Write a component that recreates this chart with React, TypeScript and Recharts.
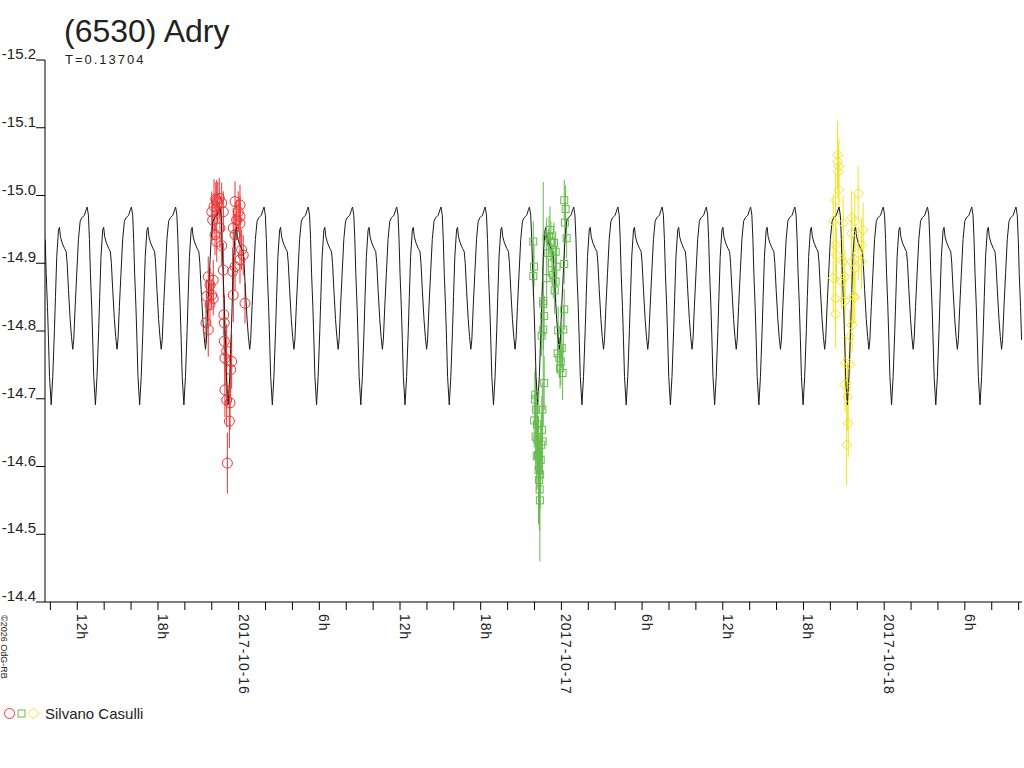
import React from 'react';
import { ComposedChart, Line, Scatter, XAxis, YAxis, ErrorBar } from 'recharts';

// time axis: hours since 2017-10-15 00:00 UT
const PERIOD_H = 0.13704 * 24;
const EPOCH_H = 10.06; // a deep minimum of the model curve
const X_DOMAIN: [number, number] = [9.6, 82.25];
const Y_DOMAIN: [number, number] = [-15.2, -14.4];

const X_TICKS = [10, 12, 14, 16, 18, 20, 22, 24, 26, 28, 30, 32, 34, 36, 38, 40, 42, 44, 46, 48, 50, 52, 54, 56, 58, 60, 62, 64, 66, 68, 70, 72, 74, 76, 78, 80, 82];
const LABEL_HOURS = [12, 18, 24, 30, 36, 42, 48, 54, 60, 66, 72, 78];
const LABEL_TEXT = ['12h', '18h', '2017-10-16', '6h', '12h', '18h', '2017-10-17', '6h', '12h', '18h', '2017-10-18', '6h'];
const Y_TICKS = [-15.2, -15.1, -15.0, -14.9, -14.8, -14.7, -14.6, -14.5, -14.4];

// one cycle of the model light curve
const PROFILE_PHASE = [0, 0.036, 0.074, 0.097, 0.126, 0.165, 0.187, 0.21, 0.248, 0.3, 0.339, 0.361, 0.391, 0.429, 0.458, 0.488, 0.51, 0.542, 0.578, 0.616, 0.655, 0.691, 0.752, 0.79, 0.813, 0.842, 0.865, 0.887, 0.916, 0.939, 0.962];
const PROFILE_MAG = [-14.691, -14.733, -14.802, -14.851, -14.91, -14.949, -14.953, -14.939, -14.93, -14.922, -14.917, -14.9, -14.861, -14.817, -14.792, -14.773, -14.787, -14.836, -14.885, -14.935, -14.962, -14.967, -14.971, -14.979, -14.983, -14.971, -14.935, -14.885, -14.836, -14.787, -14.733];

// Silvano Casulli, night 1 (red circles)
const RED_T = [21.57, 21.62, 21.74, 21.74, 21.87, 21.87, 21.99, 22.11, 22.11, 22.0, 22.07, 22.17, 22.24, 22.3, 22.37, 22.37, 22.45, 22.56, 22.61, 22.74, 22.74, 22.86, 22.86, 22.9, 22.93, 22.93, 22.98, 23.11, 22.98, 23.11, 23.31, 23.16, 23.36, 23.41, 23.48, 23.55, 23.6, 23.6, 23.73, 23.73, 23.73, 23.85, 23.97, 24.1, 24.1, 24.1, 24.1, 24.22, 24.34, 24.47];
const RED_V = [-14.812, -14.851, -14.802, -14.88, -14.868, -14.839, -14.853, -14.875, -14.848, -14.976, -14.964, -14.984, -14.942, -14.995, -14.993, -14.932, -14.99, -14.996, -14.952, -14.989, -14.926, -14.976, -14.89, -14.824, -14.812, -14.785, -14.76, -14.77, -14.713, -14.698, -14.667, -14.605, -14.694, -14.743, -14.755, -14.888, -14.952, -14.853, -14.991, -14.942, -14.895, -14.964, -14.976, -14.986, -14.969, -14.959, -14.905, -14.92, -14.912, -14.841];
const RED_E = [0.03, 0.025, 0.04, 0.03, 0.025, 0.03, 0.02, 0.03, 0.025, 0.03, 0.03, 0.04, 0.03, 0.025, 0.03, 0.03, 0.03, 0.03, 0.03, 0.03, 0.03, 0.03, 0.04, 0.03, 0.04, 0.035, 0.04, 0.04, 0.04, 0.04, 0.04, 0.045, 0.04, 0.04, 0.04, 0.035, 0.03, 0.04, 0.03, 0.03, 0.035, 0.03, 0.03, 0.03, 0.03, 0.03, 0.035, 0.03, 0.03, 0.03];

// night 2 (green squares)
const GREEN_T = [45.91, 45.96, 45.91, 46.03, 45.98, 46.08, 46.16, 46.06, 46.12, 46.18, 46.22, 46.26, 46.3, 46.34, 46.38, 46.4, 46.42, 46.46, 46.5, 46.55, 46.58, 46.6, 46.65, 46.72, 46.65, 46.53, 46.72, 46.65, 46.9, 46.9, 47.02, 47.08, 47.15, 47.22, 47.3, 47.39, 47.45, 47.5, 47.57, 47.57, 47.64, 47.72, 47.76, 47.85, 47.9, 47.95, 48.02, 48.09, 48.14, 48.21, 48.21, 48.31, 48.26, 48.39, 48.21];
const GREEN_V = [-14.932, -14.895, -14.881, -14.699, -14.668, -14.644, -14.615, -14.706, -14.684, -14.662, -14.64, -14.617, -14.595, -14.58, -14.566, -14.55, -14.588, -14.61, -14.632, -14.654, -14.684, -14.637, -14.844, -14.822, -14.802, -14.793, -14.723, -14.84, -14.937, -14.878, -14.915, -14.94, -14.949, -14.932, -14.9, -14.883, -14.93, -14.86, -14.917, -14.873, -14.895, -14.767, -14.801, -14.76, -14.745, -14.755, -14.775, -14.738, -14.802, -14.832, -14.993, -14.98, -14.96, -14.937, -14.899];
const GREEN_E = [0.03, 0.03, 0.03, 0.04, 0.04, 0.05, 0.05, 0.04, 0.045, 0.05, 0.05, 0.05, 0.08, 0.05, 0.06, 0.09, 0.05, 0.05, 0.045, 0.05, 0.04, 0.05, 0.03, 0.03, 0.03, 0.03, 0.04, 0.18, 0.03, 0.03, 0.035, 0.03, 0.035, 0.03, 0.03, 0.035, 0.03, 0.035, 0.03, 0.03, 0.03, 0.03, 0.035, 0.03, 0.03, 0.035, 0.03, 0.04, 0.035, 0.03, 0.03, 0.035, 0.03, 0.03, 0.03];

// night 3 (yellow diamonds)
const YELLOW_T = [68.54, 68.54, 68.63, 68.58, 68.63, 68.39, 68.21, 68.95, 68.39, 68.46, 68.95, 68.21, 69.08, 68.83, 68.39, 68.39, 69.08, 69.62, 69.45, 69.13, 69.45, 69.08, 69.28, 69.33, 69.21, 70.07, 69.58, 69.82, 70.44, 69.58, 70.32, 70.07, 70.32, 69.58, 69.82, 69.7, 69.82];
const YELLOW_V = [-15.06, -15.05, -15.043, -15.035, -15.008, -14.993, -14.962, -14.959, -14.927, -14.912, -14.902, -14.878, -14.88, -14.873, -14.848, -14.825, -14.844, -14.809, -14.792, -14.753, -14.751, -14.721, -14.703, -14.664, -14.632, -15.003, -14.967, -14.962, -14.949, -14.944, -14.927, -14.915, -14.902, -14.902, -14.893, -14.851, -14.85];
const YELLOW_E = [0.05, 0.04, 0.04, 0.04, 0.04, 0.04, 0.04, 0.04, 0.04, 0.04, 0.04, 0.05, 0.04, 0.04, 0.05, 0.05, 0.04, 0.04, 0.04, 0.04, 0.04, 0.04, 0.05, 0.05, 0.06, 0.04, 0.04, 0.04, 0.04, 0.04, 0.04, 0.04, 0.04, 0.04, 0.04, 0.04, 0.04];

const RED = '#ee3232';
const GREEN = '#66bb4e';
const YELLOW = '#f4e41e';
const INK = '#222';
const FONT = '"Liberation Sans", Arial, sans-serif';

const toPoints = (ts: number[], vs: number[], es: number[]) =>
  ts.map((t, i) => ({ t, v: vs[i], e: es[i] }));

const redData = toPoints(RED_T, RED_V, RED_E);
const greenData = toPoints(GREEN_T, GREEN_V, GREEN_E);
const yellowData = toPoints(YELLOW_T, YELLOW_V, YELLOW_E);

// model curve: the cycle above repeated with the period T
const modelData: { t: number; v: number }[] = [];
for (let k = -1; k <= 22; k++) {
  PROFILE_PHASE.forEach((p, i) => {
    const t = EPOCH_H + (k + p) * PERIOD_H;
    if (t >= X_DOMAIN[0] && t <= X_DOMAIN[1]) modelData.push({ t, v: PROFILE_MAG[i] });
  });
}

const CircleMark = (p: any) => (
  <circle cx={p.cx} cy={p.cy} r={5} fill="none" stroke={RED} strokeWidth={1} />
);
const SquareMark = (p: any) => (
  <rect x={p.cx - 3.5} y={p.cy - 3.5} width={7} height={7} fill="none" stroke={GREEN} strokeWidth={1} />
);
const DiamondMark = (p: any) => (
  <polygon
    points={`${p.cx},${p.cy - 5} ${p.cx + 5},${p.cy} ${p.cx},${p.cy + 5} ${p.cx - 5},${p.cy}`}
    fill="none"
    stroke={YELLOW}
    strokeWidth={1}
  />
);

const XTick = (props: any) => {
  const { x, y, payload } = props;
  const axisY = y - 8;
  const idx = LABEL_HOURS.indexOf(payload.value);
  return (
    <g>
      <line x1={x} y1={axisY} x2={x} y2={axisY + 8} stroke="#000" strokeWidth={1} />
      {idx >= 0 && (
        <text
          transform={`translate(${x},${axisY + 12}) rotate(90)`}
          fontSize={14}
          letterSpacing={0.9}
          fill={INK}
          fontFamily={FONT}
          textAnchor="start"
        >
          {LABEL_TEXT[idx]}
        </text>
      )}
    </g>
  );
};

const YTick = (props: any) => {
  const { x, y, payload } = props;
  return (
    <g>
      <line x1={x - 9} y1={y} x2={x} y2={y} stroke="#000" strokeWidth={1} />
      <text x={x - 9} y={y - 1} textAnchor="end" fontSize={15} fill={INK} fontFamily={FONT}>
        {payload.value.toFixed(1)}
      </text>
    </g>
  );
};

export default function App() {
  return (
    <div style={{ position: 'absolute', left: 0, top: 0, width: 1024, height: 768, background: '#fff' }}>
      <ComposedChart width={1024} height={768} margin={{ top: 60, right: 2, left: 0, bottom: 0 }}>
        <XAxis
          dataKey="t"
          type="number"
          domain={X_DOMAIN}
          ticks={X_TICKS}
          interval={0}
          allowDataOverflow
          height={166}
          tickSize={8}
          tickMargin={0}
          tickLine={false}
          axisLine={{ stroke: '#000' }}
          tick={<XTick />}
        />
        <YAxis
          type="number"
          domain={Y_DOMAIN}
          reversed
          ticks={Y_TICKS}
          interval={0}
          allowDataOverflow
          width={45}
          tickSize={0}
          tickMargin={0}
          tickLine={false}
          axisLine={{ stroke: '#000' }}
          tick={<YTick />}
        />
        <Scatter data={redData} dataKey="v" shape={<CircleMark />} isAnimationActive={false}>
          <ErrorBar dataKey="e" direction="y" width={0} stroke={RED} strokeWidth={1} />
        </Scatter>
        <Scatter data={greenData} dataKey="v" shape={<SquareMark />} isAnimationActive={false}>
          <ErrorBar dataKey="e" direction="y" width={0} stroke={GREEN} strokeWidth={1} />
        </Scatter>
        <Scatter data={yellowData} dataKey="v" shape={<DiamondMark />} isAnimationActive={false}>
          <ErrorBar dataKey="e" direction="y" width={0} stroke={YELLOW} strokeWidth={1} />
        </Scatter>
        <Line
          data={modelData}
          dataKey="v"
          type="linear"
          stroke="#1a1a1a"
          strokeWidth={1}
          dot={false}
          activeDot={false}
          isAnimationActive={false}
        />
      </ComposedChart>
      <svg
        width={1024}
        height={768}
        style={{ position: 'absolute', left: 0, top: 0, pointerEvents: 'none' }}
        fontFamily={FONT}
      >
        <text x={64} y={42} fontSize={32} fill={INK}>(6530) Adry</text>
        <text x={65} y={64} fontSize={13} letterSpacing={2} fill={INK}>T=0.13704</text>
        <text transform="translate(1,615) rotate(90)" fontSize={9} fill={INK}>©2026 OdG-RB</text>
        <circle cx={9.5} cy={713.5} r={5} fill="none" stroke={RED} strokeWidth={1} />
        <rect x={18} y={710} width={7} height={7} fill="none" stroke={GREEN} strokeWidth={1} />
        <polygon points="33.5,708 39,713.5 33.5,719 28,713.5" fill="none" stroke={YELLOW} strokeWidth={1} />
        <text x={45} y={718.5} fontSize={15} fill={INK}>Silvano Casulli</text>
      </svg>
    </div>
  );
}
